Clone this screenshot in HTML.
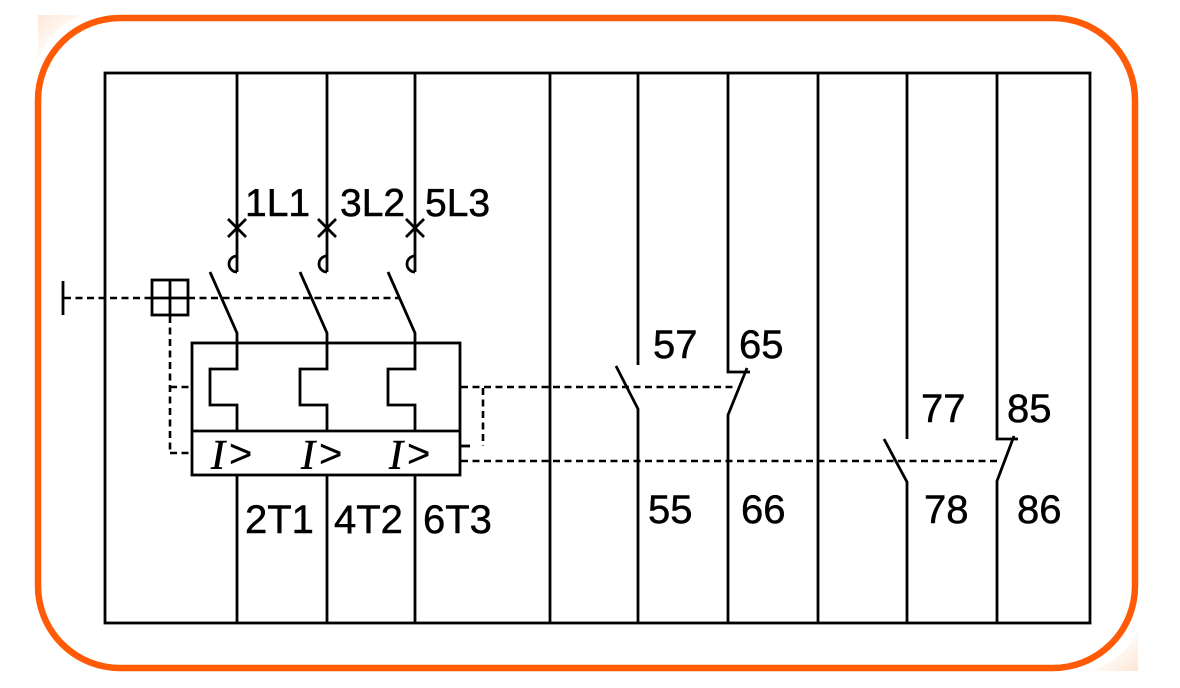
<!DOCTYPE html>
<html>
<head>
<meta charset="utf-8">
<style>
html,body{margin:0;padding:0;background:#fff;}
body{width:1180px;height:688px;overflow:hidden;}
svg{display:block;}
text{font-family:"Liberation Sans",sans-serif;fill:#000;stroke:#000;stroke-width:0.5px;}
</style>
</head>
<body>
<svg width="1180" height="688" viewBox="0 0 1180 688" xmlns="http://www.w3.org/2000/svg">
  <defs>
    <linearGradient id="pk1" x1="0" y1="0" x2="1" y2="1">
      <stop offset="0" stop-color="#fde6d4"/>
      <stop offset="1" stop-color="#ffffff" stop-opacity="0"/>
    </linearGradient>
    <linearGradient id="pk2" x1="1" y1="1" x2="0" y2="0">
      <stop offset="0" stop-color="#fde6d4"/>
      <stop offset="1" stop-color="#ffffff" stop-opacity="0"/>
    </linearGradient>
  </defs>
  <rect width="1180" height="688" fill="#fff"/>
  <!-- faint peach corners -->
  <path d="M35,15 H85 Q50,25 38,60 V15 Z" fill="url(#pk1)"/>
  <path d="M1138,671 H1090 Q1125,660 1138,630 Z" fill="url(#pk2)"/>
  <!-- orange rounded frame -->
  <rect x="38" y="18" width="1097" height="650" rx="82" ry="82" fill="none" stroke="#ff5a06" stroke-width="6.5"/>

  <g stroke="#000" stroke-width="2.8" fill="none" stroke-linecap="butt">
    <!-- outer border -->
    <rect x="105" y="73" width="985" height="550"/>
    <!-- full-height verticals -->
    <line x1="550" y1="73" x2="550" y2="623"/>
    <line x1="818" y1="73" x2="818" y2="623"/>

    <!-- pole lines upper -->
    <line x1="237" y1="73" x2="237" y2="272"/>
    <line x1="327" y1="73" x2="327" y2="272"/>
    <line x1="415" y1="73" x2="415" y2="272"/>
    <!-- crosses -->
    <path d="M228,219 L246,237 M246,219 L228,237"/>
    <path d="M318,219 L336,237 M336,219 L318,237"/>
    <path d="M406,219 L424,237 M424,219 L406,237"/>
    <!-- hooks -->
    <path d="M237,256 A8,8 0 0 0 237,272"/>
    <path d="M327,256 A8,8 0 0 0 327,272"/>
    <path d="M415,256 A8,8 0 0 0 415,272"/>
    <!-- blades -->
    <path d="M210,272 L237,333 V343"/>
    <path d="M300,272 L327,333 V343"/>
    <path d="M388,272 L415,333 V343"/>

    <!-- thermal/magnetic box -->
    <rect x="192" y="343" width="268" height="132"/>
    <line x1="192" y1="431" x2="460" y2="431"/>
    <!-- bimetal shapes -->
    <path d="M237,343 V369 H210 V405 H237 V431"/>
    <path d="M327,343 V369 H300 V405 H327 V431"/>
    <path d="M415,343 V369 H388 V405 H415 V431"/>
    <!-- lower pole lines -->
    <line x1="237" y1="475" x2="237" y2="623"/>
    <line x1="327" y1="475" x2="327" y2="623"/>
    <line x1="415" y1="475" x2="415" y2="623"/>

    <!-- T bar & square -->
    <line x1="63" y1="281" x2="63" y2="315"/>
    <rect x="152" y="280" width="36" height="35"/>
    <line x1="170" y1="280" x2="170" y2="315"/>
    <line x1="152" y1="298" x2="188" y2="298"/>
    <line x1="460" y1="446" x2="470" y2="446"/>

    <!-- contact 57/55 -->
    <line x1="638" y1="73" x2="638" y2="365"/>
    <path d="M616,366 L638,409 V623"/>
    <!-- contact 65/66 -->
    <path d="M728,73 V372 H750"/>
    <path d="M747,368 L728,415 V623"/>
    <!-- contact 77/78 -->
    <line x1="907" y1="73" x2="907" y2="439"/>
    <path d="M884,439 L907,482 V623"/>
    <!-- contact 85/86 -->
    <path d="M997,73 V439 H1018"/>
    <path d="M1014,436 L997,481 V623"/>
  </g>

  <!-- dashed mechanical links -->
  <g stroke="#000" stroke-width="2.6" fill="none" stroke-dasharray="7 4.5">
    <line x1="64" y1="298" x2="152" y2="298"/>
    <line x1="188" y1="298" x2="399" y2="298"/>
    <line x1="170" y1="316" x2="170" y2="453"/>
    <line x1="170" y1="453" x2="192" y2="453"/>
    <line x1="170" y1="387" x2="192" y2="387"/>
    <line x1="461" y1="387" x2="737" y2="387"/>
    <line x1="483" y1="388" x2="483" y2="446"/>
    <line x1="461" y1="461" x2="1000" y2="461"/>
  </g>

  <!-- I> symbols -->
  <g>
    <text x="211" y="469" style="font-family:'Liberation Serif',serif;font-style:italic;font-size:42px;">I</text>
    <text x="229" y="467" style="font-size:40px;stroke-width:0.2px;">&gt;</text>
    <text x="301" y="469" style="font-family:'Liberation Serif',serif;font-style:italic;font-size:42px;">I</text>
    <text x="319" y="467" style="font-size:40px;stroke-width:0.2px;">&gt;</text>
    <text x="389" y="469" style="font-family:'Liberation Serif',serif;font-style:italic;font-size:42px;">I</text>
    <text x="407" y="467" style="font-size:40px;stroke-width:0.2px;">&gt;</text>
  </g>

  <!-- labels -->
  <g style="font-size:39px;">
    <text x="245" y="216">1L1</text>
    <text x="340" y="216">3L2</text>
    <text x="425" y="216">5L3</text>
  </g>
  <g style="font-size:40px;">
    <text x="245" y="533">2T1</text>
    <text x="334" y="533">4T2</text>
    <text x="423" y="533">6T3</text>
    <text x="653" y="358">57</text>
    <text x="739" y="358">65</text>
    <text x="921" y="422">77</text>
    <text x="1007" y="422">85</text>
    <text x="648" y="523">55</text>
    <text x="741" y="523">66</text>
    <text x="924" y="523">78</text>
    <text x="1017" y="523">86</text>
  </g>
</svg>
</body>
</html>
